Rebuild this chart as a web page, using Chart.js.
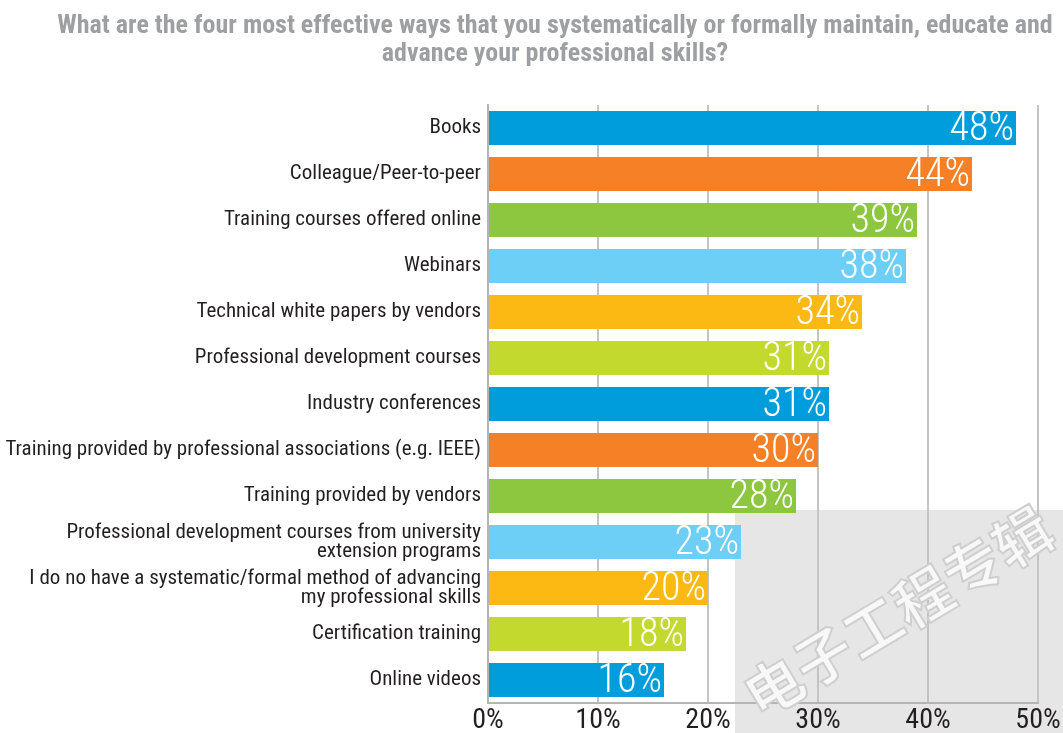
<!DOCTYPE html>
<html>
<head>
<meta charset="utf-8">
<script src="https://cdn.jsdelivr.net/npm/chart.js@4"></script>
<style>
  html, body { margin: 0; padding: 0; background: #fff; }
  #wrap { width: 1063px; height: 733px; }
</style>
</head>
<body>
<div id="wrap"><canvas id="chart"></canvas></div>
<script>
/* Data */

const categories = [
  'Books',
  'Colleague/Peer-to-peer',
  'Training courses offered online',
  'Webinars',
  'Technical white papers by vendors',
  'Professional development courses',
  'Industry conferences',
  'Training provided by professional associations (e.g. IEEE)',
  'Training provided by vendors',
  ['Professional development courses from university', 'extension programs'],
  ['I do no have a systematic/formal method of advancing', 'my professional skills'],
  'Certification training',
  'Online videos'
]
const values = [48, 44, 39, 38, 34, 31, 31, 30, 28, 23, 20, 18, 16]
const barColors = [
  '#009ddc', '#f58026', '#8dc63f', '#6dcff6', '#fdb913', '#c4d92e',
  '#009ddc', '#f58026', '#8dc63f', '#6dcff6', '#fdb913', '#c4d92e',
  '#009ddc'
]
const xTicks = [0, 10, 20, 30, 40, 50]
const titleLines = [
  'What are the four most effective ways that you systematically or formally maintain, educate and',
  'advance your professional skills?'
]
const watermark = '电子工程专辑'

/* Plugins */

const backdrop = {
  id: 'backdrop',
  beforeDraw(chart) {
    const ctx = chart.ctx
    ctx.save()
    ctx.fillStyle = '#e6e6e6'
    ctx.fillRect(735, 510, chart.width - 735, chart.height - 510)
    ctx.restore()
  },
  afterDraw(chart) {
    const ctx = chart.ctx
    ctx.save()
    // watermark
    ctx.translate(898, 612)
    ctx.rotate(-0.54)
    ctx.font = 'bold 58px "Noto Sans CJK SC"'
    ctx.textAlign = 'center'
    ctx.textBaseline = 'middle'
    ctx.lineWidth = 2
    ctx.strokeStyle = '#cfcfcf'
    ctx.fillStyle = '#f8f8f8'
    ctx.fillText(watermark, 0, 0)
    ctx.strokeText(watermark, 0, 0)
    ctx.restore()

    // title
    ctx.save()
    ctx.font = 'bold 26px "Roboto Condensed"'
    ctx.fillStyle = '#9d9fa2'
    ctx.textAlign = 'center'
    ctx.textBaseline = 'middle'
    titleLines.forEach((line, i) => ctx.fillText(line, 555, 26 + i * 28))
    ctx.restore()
  }
}

const valueLabels = {
  id: 'valueLabels',
  afterDatasetsDraw(chart) {
    const ctx = chart.ctx
    const meta = chart.getDatasetMeta(0)
    ctx.save()
    ctx.font = '300 40px "Roboto Condensed"'
    ctx.fillStyle = '#ffffff'
    ctx.textAlign = 'right'
    ctx.textBaseline = 'middle'
    meta.data.forEach((bar, i) => {
      ctx.fillText(values[i] + '%', bar.x - 2, bar.y + 2)
    })
    ctx.restore()
  }
}

/* Chart */

const ctx = document.querySelector('#chart').getContext('2d')
const myChart = new Chart(ctx, {
  type: 'bar',
  data: {
    labels: categories,
    datasets: [{
      data: values,
      backgroundColor: barColors,
      borderWidth: 0,
      barPercentage: 0.74,
      categoryPercentage: 1
    }]
  },
  plugins: [backdrop, valueLabels],
  options: {
    indexAxis: 'y',
    responsive: true,
    maintainAspectRatio: false,
    animation: false,
    layout: {
      padding: { top: 105, right: 25, left: 0, bottom: 0 }
    },
    plugins: {
      legend: { display: false },
      title: { display: false },
      tooltip: { enabled: false }
    },
    scales: {
      x: {
        min: 0,
        max: 50,
        afterBuildTicks(scale) {
          scale.ticks = xTicks.map(v => ({ value: v }))
        },
        afterFit(scale) {
          scale.height = 30
        },
        ticks: {
          callback: v => v + '%',
          color: '#231f20',
          padding: 1,
          maxRotation: 0,
          font: { family: 'Roboto Condensed', size: 28 }
        },
        grid: {
          color: '#c4c4c4',
          lineWidth: 2,
          drawTicks: false
        },
        border: { color: '#b5b5b5', width: 2 }
      },
      y: {
        afterFit(scale) {
          scale.width = 488
        },
        ticks: {
          color: '#231f20',
          padding: 7,
          font: { family: 'Roboto Condensed', size: 21, lineHeight: 0.9 }
        },
        grid: { display: false, drawTicks: false },
        border: { color: '#b5b5b5', width: 2 }
      }
    }
  }
})
</script>
</body>
</html>
